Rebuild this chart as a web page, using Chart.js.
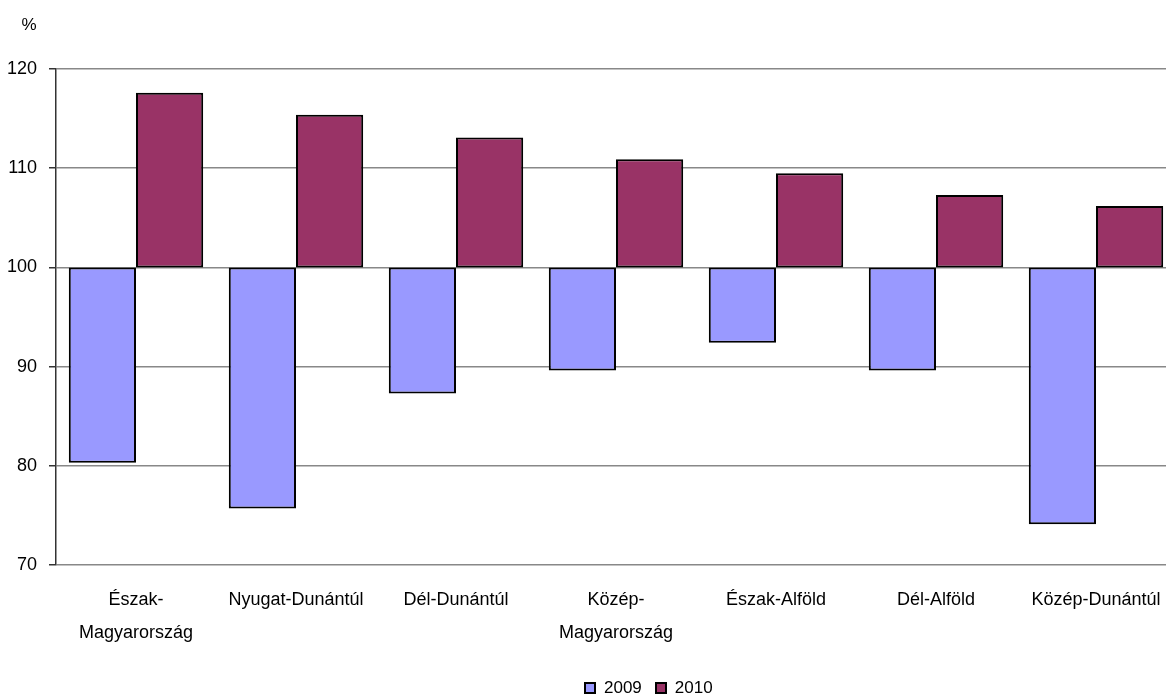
<!DOCTYPE html>
<html>
<head>
<meta charset="utf-8">
<script src="https://cdn.jsdelivr.net/npm/chart.js@4/dist/chart.umd.min.js"></script>
<style>
  html, body { margin: 0; padding: 0; background: #fff; }
  #wrap { position: relative; width: 1166px; height: 699px; overflow: hidden; }
  #c { position: absolute; left: 0; top: 0; }
  #legend { position: absolute; top: 678px; left: 584px; display: flex; align-items: center;
            font-family: 'Liberation Sans', Arial, sans-serif; font-size: 17px; color: #000; }
  #legend .box { width: 12px; height: 12px; border: 2px solid #000; box-sizing: border-box; margin-right: 8px; }
  #legend .item { display: flex; align-items: center; margin-right: 13px; }
</style>
</head>
<body>
<div id="wrap">
  <canvas id="c" width="1180" height="699"></canvas>
  <div id="legend"></div>
</div>
<script>
const categories = [
  ['Észak-', 'Magyarország'],
  'Nyugat-Dunántúl',
  'Dél-Dunántúl',
  ['Közép-', 'Magyarország'],
  'Észak-Alföld',
  'Dél-Alföld',
  'Közép-Dunántúl'
];
const seriesNames = ['2009', '2010'];
const values2009 = [80.3, 75.7, 87.3, 89.6, 92.4, 89.6, 74.1];
const values2010 = [117.6, 115.4, 113.1, 110.9, 109.5, 107.3, 106.2];
const baseValue = 100;
const yTicks = [70, 80, 90, 100, 110, 120];
const unitLabel = '%';

const colors = ['#9999FF', '#993366'];
const FONT = "'Liberation Sans', Arial, sans-serif";

const unitPlugin = {
  id: 'unitLabel',
  afterDraw(chart) {
    const ctx = chart.ctx;
    ctx.save();
    ctx.font = '17px ' + FONT;
    ctx.fillStyle = '#000';
    ctx.textAlign = 'center';
    ctx.textBaseline = 'middle';
    ctx.fillText(unitLabel, chart.scales.y.left + 29, chart.chartArea.top - 44);
    ctx.restore();
  }
};

new Chart(document.getElementById('c'), {
  type: 'bar',
  data: {
    labels: categories,
    datasets: [
      { label: seriesNames[0], data: values2009.map(v => [baseValue, v]), backgroundColor: colors[0],
        borderColor: '#000', borderWidth: 2, borderSkipped: false },
      { label: seriesNames[1], data: values2010.map(v => [baseValue, v]), backgroundColor: colors[1],
        borderColor: '#000', borderWidth: 2, borderSkipped: false }
    ]
  },
  options: {
    responsive: false,
    animation: false,
    layout: { padding: { top: 69, right: 4, bottom: 0, left: 0 } },
    datasets: { bar: { categoryPercentage: 0.84, barPercentage: 1.0 } },
    plugins: { legend: { display: false }, tooltip: { enabled: false }, title: { display: false } },
    scales: {
      x: {
        grid: { display: false, drawTicks: false },
        border: { display: false },
        ticks: { color: '#000', font: { family: FONT, size: 18, lineHeight: 1.8 }, padding: 19, maxRotation: 0, autoSkip: false },
        afterFit(scale) { scale.height = 134; }
      },
      y: {
        min: yTicks[0], max: yTicks[yTicks.length - 1],
        afterBuildTicks(scale) { scale.ticks = yTicks.map(v => ({ value: v })); },
        grid: { color: '#888', lineWidth: 1.5, tickLength: 7, tickColor: '#333', tickWidth: 1.5 },
        border: { display: true, color: '#333', width: 1.5 },
        ticks: { color: '#000', font: { family: FONT, size: 18 }, padding: 12 },
        afterFit(scale) { scale.width = 56; }
      }
    }
  },
  plugins: [unitPlugin]
});

const legend = document.getElementById('legend');
seriesNames.forEach((n, i) => {
  const item = document.createElement('div');
  item.className = 'item';
  const box = document.createElement('div');
  box.className = 'box';
  box.style.background = colors[i];
  const t = document.createElement('span');
  t.textContent = n;
  item.appendChild(box); item.appendChild(t);
  legend.appendChild(item);
});
</script>
</body>
</html>
